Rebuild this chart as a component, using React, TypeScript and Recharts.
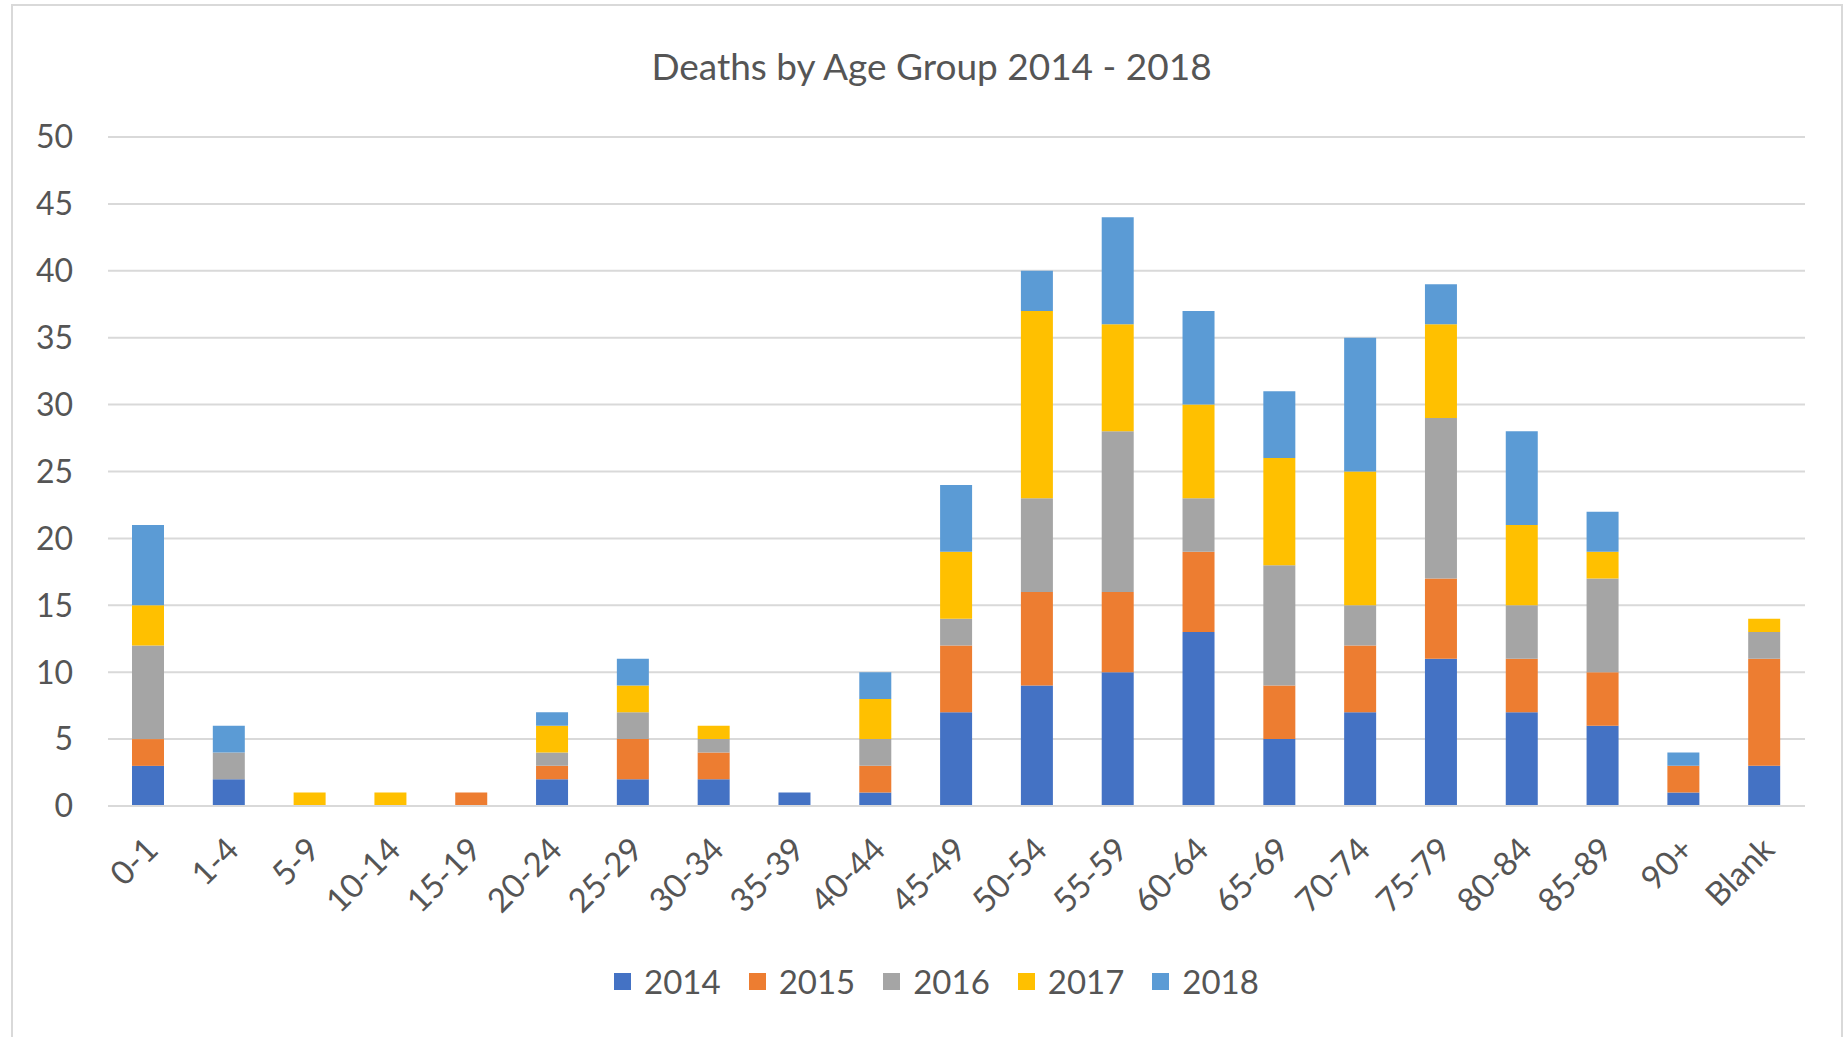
import { BarChart, Bar, XAxis, YAxis, CartesianGrid, Legend } from "recharts";

const categories = [
  "0-1", "1-4", "5-9", "10-14", "15-19", "20-24", "25-29", "30-34", "35-39", "40-44",
  "45-49", "50-54", "55-59", "60-64", "65-69", "70-74", "75-79", "80-84", "85-89", "90+", "Blank",
];

const deaths2014 = [3, 2, 0, 0, 0, 2, 2, 2, 1, 1, 7, 9, 10, 13, 5, 7, 11, 7, 6, 1, 3];
const deaths2015 = [2, 0, 0, 0, 1, 1, 3, 2, 0, 2, 5, 7, 6, 6, 4, 5, 6, 4, 4, 2, 8];
const deaths2016 = [7, 2, 0, 0, 0, 1, 2, 1, 0, 2, 2, 7, 12, 4, 9, 3, 12, 4, 7, 0, 2];
const deaths2017 = [3, 0, 1, 1, 0, 2, 2, 1, 0, 3, 5, 14, 8, 7, 8, 10, 7, 6, 2, 0, 1];
const deaths2018 = [6, 2, 0, 0, 0, 1, 2, 0, 0, 2, 5, 3, 8, 7, 5, 10, 3, 7, 3, 1, 0];

const years = ["2014", "2015", "2016", "2017", "2018"];
const colors = ["#4472C4", "#ED7D31", "#A5A5A5", "#FFC000", "#5B9BD5"];
const yTicks = [0, 5, 10, 15, 20, 25, 30, 35, 40, 45, 50];

const series = [deaths2014, deaths2015, deaths2016, deaths2017, deaths2018];

const data = categories.map((group, i) => {
  const row: Record<string, string | number> = { group };
  years.forEach((y, k) => {
    row[y] = series[k][i];
  });
  return row;
});

const FONT = "Lato, 'Open Sans', sans-serif";
const TEXT = "#555555";

function AgeTick({ x, y, payload }: { x?: number; y?: number; payload?: { value: string } }) {
  // Excel style: label end sits just under the bar, rotated 45deg
  return (
    <g transform={`translate(${(x ?? 0) - 7},${(y ?? 0) + 27})`}>
      <text
        x={0}
        y={0}
        textAnchor="end"
        dominantBaseline="hanging"
        transform="rotate(-45)"
        fill={TEXT}
        fontSize={33}
        fontFamily={FONT}
      >
        {payload?.value}
      </text>
    </g>
  );
}

function LegendBox() {
  return (
    <div
      style={{
        display: "flex",
        justifyContent: "center",
        alignItems: "center",
        height: 40,
        paddingLeft: 26,
        fontFamily: FONT,
        fontSize: 33,
        color: TEXT,
      }}
    >
      {years.map((y, k) => (
        <div key={y} style={{ display: "flex", alignItems: "center", marginRight: k < years.length - 1 ? 28 : 0 }}>
          <span style={{ width: 17, height: 17, background: colors[k], marginRight: 13, display: "inline-block" }} />
          <span>{y}</span>
        </div>
      ))}
    </div>
  );
}

export default function App() {
  return (
    <div style={{ position: "absolute", left: 0, top: 0, width: 1847, height: 1037, background: "#fff", overflow: "hidden" }}>
      <div
        style={{
          position: "absolute",
          left: 11,
          top: 4,
          width: 1832,
          height: 1050,
          border: "2px solid #d9d9d9",
          boxSizing: "border-box",
        }}
      />
      <div
        style={{
          position: "absolute",
          left: 0,
          width: 1847,
          top: 43,
          textAlign: "center",
          paddingLeft: 16,
          boxSizing: "border-box",
          fontFamily: FONT,
          fontSize: 37,
          color: TEXT,
        }}
      >
        Deaths by Age Group 2014 - 2018
      </div>
      <div style={{ position: "absolute", left: 0, top: 0 }}>
        <BarChart
          width={1847}
          height={1037}
          data={data}
          margin={{ top: 137, right: 42, left: 38, bottom: 36 }}
          barSize={32}
        >
          <CartesianGrid vertical={false} stroke="#d9d9d9" strokeWidth={2} />
          <XAxis
            dataKey="group"
            interval={0}
            height={155}
            axisLine={{ stroke: "#d9d9d9", strokeWidth: 2 }}
            tickLine={false}
            tickSize={0}
            tickMargin={0}
            tick={<AgeTick />}
          />
          <YAxis
            width={70}
            domain={[0, 50]}
            ticks={yTicks}
            interval={0}
            axisLine={false}
            tickLine={false}
            tickSize={0}
            tickMargin={35}
            tick={{ fill: TEXT, fontSize: 32, fontFamily: FONT }}
          />
          <Legend
            verticalAlign="bottom"
            wrapperStyle={{ left: 0, width: 1847 }}
            content={<LegendBox />}
          />
          {years.map((y, k) => (
            <Bar key={y} dataKey={y} stackId="a" fill={colors[k]} isAnimationActive={false} />
          ))}
        </BarChart>
      </div>
    </div>
  );
}
